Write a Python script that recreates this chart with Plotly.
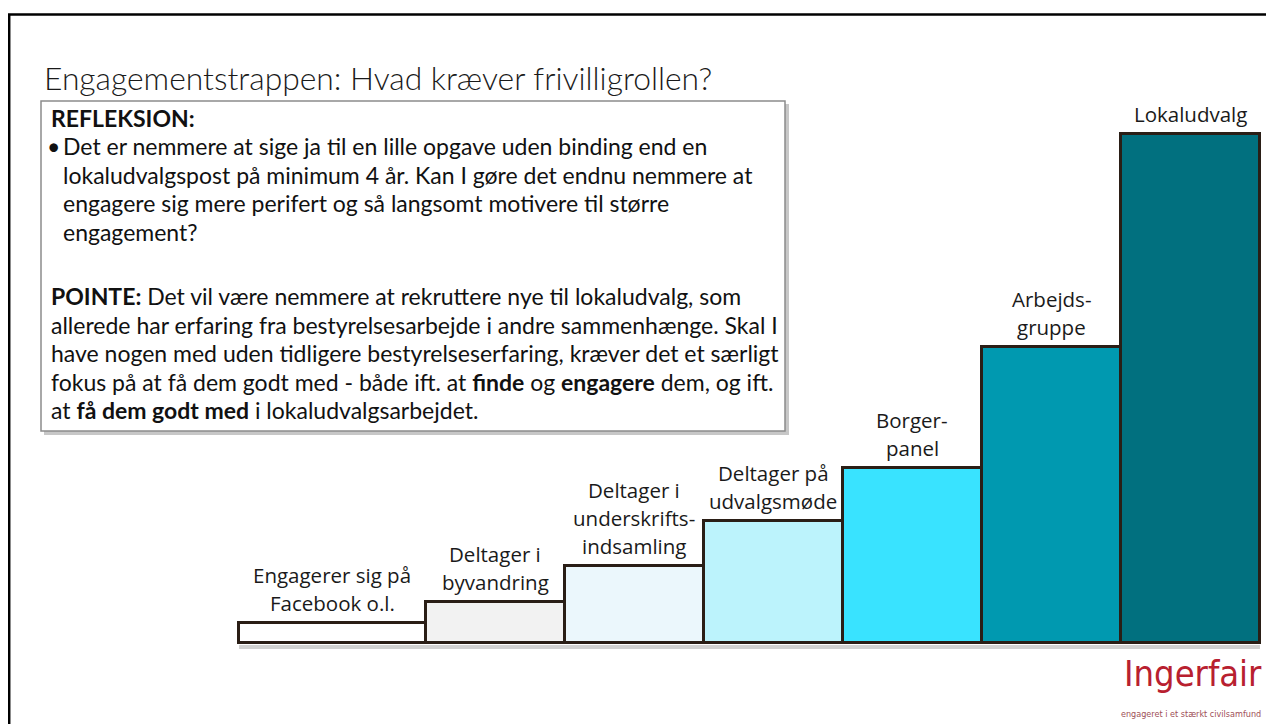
import plotly.graph_objects as go

# ---------------- data ----------------
categories = [
    "Engagerer sig på\nFacebook o.l.",
    "Deltager i\nbyvandring",
    "Deltager i\nunderskrifts-\nindsamling",
    "Deltager på\nudvalgsmøde",
    "Borger-\npanel",
    "Arbejds-\ngruppe",
    "Lokaludvalg",
]
values = [20, 41, 77, 122, 175, 296, 509]

title_text = "Engagementstrappen: Hvad kræver frivilligrollen?"
refleksion_head = "<b>REFLEKSION:</b>"
refleksion_lines = [
    "Det er nemmere at sige ja til en lille opgave uden binding end en",
    "lokaludvalgspost på minimum 4 år. Kan I gøre det endnu nemmere at",
    "engagere sig mere perifert og så langsomt motivere til større",
    "engagement?",
]
pointe_lines = [
    "<b>POINTE:</b> Det vil være nemmere at rekruttere nye til lokaludvalg, som",
    "allerede har erfaring fra bestyrelsesarbejde i andre sammenhænge. Skal I",
    "have nogen med uden tidligere bestyrelseserfaring, kræver det et særligt",
    "fokus på at få dem godt med - både ift. at <b>finde</b> og <b>engagere</b> dem, og ift.",
    "at <b>få dem godt med</b> i lokaludvalgsarbejdet.",
]
logo_text = "Ingerfair"
logo_sub = "engageret i et stærkt civilsamfund"

# ---------------- styles ----------------
colors = ["#FFFFFF", "#F2F2F2", "#EBF7FC", "#BCF3FC", "#39E3FF", "#0099B0", "#01707F"]
bar_widths = [1.345, 1, 1, 1, 1, 1, 1]
W, H = 1274, 724
OFF = 8  # page body margin
TEXT_FONT = "Lato, 'Open Sans', sans-serif"
LABEL_FONT = "'Open Sans', Lato, sans-serif"
LOGO_FONT = "'Liberation Sans Narrow', 'DejaVu Sans Condensed', sans-serif"

# bar centres from widths (contiguous steps)
centers = []
edge = 0.0
for w in bar_widths:
    centers.append(edge + w / 2)
    edge += w

def px(x):
    return (x - OFF) / W

def py(y):
    return 1 - (y - OFF) / H

fig = go.Figure()
fig.add_trace(go.Bar(
    x=centers, y=values, width=bar_widths,
    marker=dict(color=colors, line=dict(color="#2A1E16", width=3)),
    hoverinfo="skip", showlegend=False,
))

annotations = []
# bar labels, one annotation per line
for c, v, cat in zip(centers, values, categories):
    lines = cat.split("\n")
    n = len(lines)
    for k, line in enumerate(lines):
        annotations.append(dict(
            x=c, y=v, xref="x", yref="y", text=line, showarrow=False,
            xanchor="center", yanchor="middle", yshift=20 + (n - 1 - k) * 28,
            font=dict(family=LABEL_FONT, size=20.5, color="#1a1a1a"),
        ))

# title
annotations.append(dict(
    x=px(42), y=py(78), xref="paper", yref="paper", text=title_text,
    showarrow=False, xanchor="left", yanchor="middle",
    font=dict(family=TEXT_FONT, size=31.8, color="#1a1a1a", weight=300),
))

# text box
box_font = dict(family=TEXT_FONT, size=23, color="#111111")
annotations.append(dict(
    x=px(49), y=py(118), xref="paper", yref="paper", text=refleksion_head,
    showarrow=False, xanchor="left", yanchor="middle", font=box_font,
))
annotations.append(dict(
    x=px(45), y=py(146), xref="paper", yref="paper", text="•",
    showarrow=False, xanchor="left", yanchor="middle", font=box_font,
))
for k, line in enumerate(refleksion_lines):
    annotations.append(dict(
        x=px(61), y=py(146 + k * 28.6), xref="paper", yref="paper", text=line,
        showarrow=False, xanchor="left", yanchor="middle", font=box_font,
    ))
for k, line in enumerate(pointe_lines):
    annotations.append(dict(
        x=px(49), y=py(296 + k * 28.6), xref="paper", yref="paper", text=line,
        showarrow=False, xanchor="left", yanchor="middle", font=box_font,
    ))

# logo
annotations.append(dict(
    x=px(1264), y=py(673), xref="paper", yref="paper", text=logo_text,
    showarrow=False, xanchor="right", yanchor="middle",
    font=dict(family=LOGO_FONT, size=36, color="#B8202F"),
))
annotations.append(dict(
    x=px(1263), y=py(714), xref="paper", yref="paper", text=logo_sub,
    showarrow=False, xanchor="right", yanchor="middle",
    font=dict(family=LOGO_FONT, size=9, color="#9E4F57"),
))

shapes = [
    # slide frame
    dict(type="rect", xref="paper", yref="paper", x0=px(9.2), x1=1.05, y0=-0.05, y1=py(14.6),
         line=dict(color="#000000", width=2.5), fillcolor="rgba(0,0,0,0)", layer="above"),
    # text box shadow + box
    dict(type="rect", xref="paper", yref="paper", x0=px(44), x1=px(789), y0=py(435), y1=py(104),
         line=dict(width=0), fillcolor="rgba(0,0,0,0.22)", layer="above"),
    dict(type="rect", xref="paper", yref="paper", x0=px(41), x1=px(785), y0=py(431), y1=py(101),
         line=dict(color="#8C8C8C", width=1.5), fillcolor="#FFFFFF", layer="above"),
    # shadow under the staircase
    dict(type="rect", xref="x", yref="y", x0=0, x1=edge, y0=-2, y1=-6,
         line=dict(width=0), fillcolor="rgba(0,0,0,0.18)", layer="below"),
]

x_left_px = 239 - OFF     # left edge of first step, figure pixels
base_px = 643 - OFF       # baseline of steps, figure pixels
fig.update_layout(
    width=W, height=H, margin=dict(l=0, r=0, t=0, b=0),
    paper_bgcolor="#FFFFFF", plot_bgcolor="#FFFFFF",
    bargap=0, showlegend=False,
    xaxis=dict(visible=False, range=[-x_left_px / 139, (W - x_left_px) / 139], fixedrange=True),
    yaxis=dict(visible=False, range=[-(H - base_px), base_px], fixedrange=True),
    annotations=annotations, shapes=shapes,
)

fig.write_html("out.html")
